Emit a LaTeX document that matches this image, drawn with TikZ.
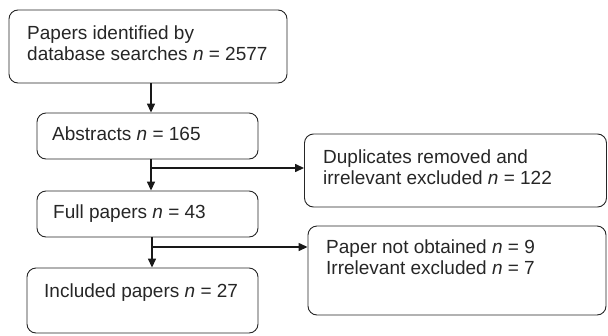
\documentclass[tikz,border=0pt]{standalone}
\usepackage{fontspec}
\setmainfont{Liberation Sans}
\usetikzlibrary{arrows.meta}
\begin{document}
\begin{tikzpicture}[x=1pt,y=-1pt,
  box/.style={draw=black!85, line width=0.9pt, rounded corners=9pt, inner sep=0pt},
  txt/.style={inner sep=0pt, anchor=base west, align=left, font=\fontsize{19}{21}\selectfont, text=black!85},
  arr/.style={draw=black!90, line width=1.4pt, -{Triangle[length=9pt,width=8pt]}}]
\useasboundingbox (0,0) rectangle (608,335);
% boxes
\node[box, minimum width=278pt, minimum height=73pt] (b1) at (148,46.5) {};
\node[box, minimum width=221pt, minimum height=46pt] (b2) at (147.5,136) {};
\node[box, minimum width=302pt, minimum height=73pt] (b3) at (455.5,170.5) {};
\node[box, minimum width=221pt, minimum height=46pt] (b4) at (147.5,214) {};
\node[box, minimum width=298pt, minimum height=89pt] (b5) at (457,270.5) {};
\node[box, minimum width=231pt, minimum height=65pt] (b6) at (142.5,300.5) {};
% texts (base anchor = baseline of the last line)
\node[txt] (t1) at (27,60) {Papers identified by\\database searches \textit{n} = 2577};
\node[txt] (t2) at (52,140) {Abstracts \textit{n} = 165};
\node[txt] (t3) at (323,184) {Duplicates removed and\\irrelevant excluded \textit{n} = 122};
\node[txt] (t4) at (53,218) {Full papers \textit{n} = 43};
\node[txt] (t5) at (326,274) {Paper not obtained \textit{n} = 9\\Irrelevant excluded \textit{n} = 7};
\node[txt] (t6) at (44,297) {Included papers \textit{n} = 27};
% connectors
\coordinate (j1) at (151,168);
\coordinate (j2) at (152,247);
\draw[arr] (b1.south -| j1) -- (b2.north -| j1);
\draw[arr] (b2.south -| j1) -- (b4.north -| j1);
\draw[arr] (b4.south -| j2) -- (b6.north -| j2);
\draw[arr] (j1) -- (j1 -| b3.west);
\draw[arr] (j2) -- (j2 -| b5.west);
\end{tikzpicture}
\end{document}
